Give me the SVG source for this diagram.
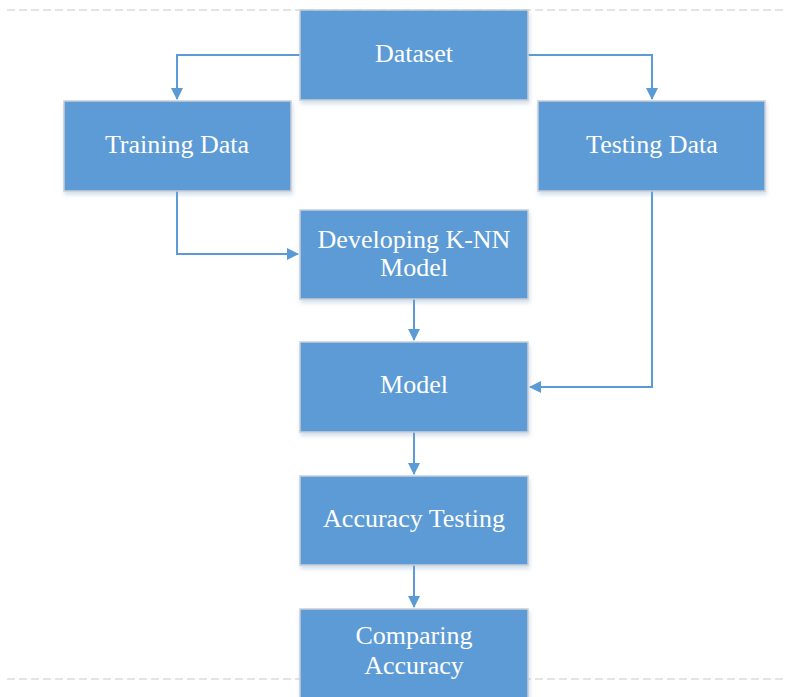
<svg xmlns="http://www.w3.org/2000/svg" width="787" height="697" viewBox="0 0 787 697">
<style>
.box{fill:#5B9BD5;stroke:#C9CED6;stroke-width:1.5}
.lbl{fill:#FFFFFF;font-family:"Liberation Serif","Times New Roman",serif;font-size:26px;text-anchor:middle}
.conn{fill:none;stroke:#5B9BD5;stroke-width:2}
.dash{stroke:#C8C8C8;stroke-width:1;stroke-dasharray:8,4}
</style>
<defs>
<filter id="sh" x="-10%" y="-10%" width="125%" height="130%">
<feDropShadow dx="1" dy="3" stdDeviation="2" flood-color="#7f9fc0" flood-opacity="0.35"/>
</filter>
<marker id="a" viewBox="0 0 12 12" refX="11" refY="6" markerWidth="12" markerHeight="12" orient="auto" markerUnits="userSpaceOnUse">
<path d="M0,0 L12,6 L0,12 z" fill="#5B9BD5"/>
</marker>
</defs>
<rect width="787" height="697" fill="#FFFFFF"/>
<line class="dash" x1="7" y1="10" x2="787" y2="10"/>
<line class="dash" x1="7" y1="679" x2="787" y2="679"/>
<g id="connectors">
<path class="conn" d="M300,55 H177 V99" marker-end="url(#a)"/>
<path class="conn" d="M528,55 H652 V99" marker-end="url(#a)"/>
<path class="conn" d="M177,191 V254 H298" marker-end="url(#a)"/>
<path class="conn" d="M652,191 V387 H530" marker-end="url(#a)"/>
<path class="conn" d="M414,299 V340" marker-end="url(#a)"/>
<path class="conn" d="M414,432 V474" marker-end="url(#a)"/>
<path class="conn" d="M414,565 V607" marker-end="url(#a)"/>
</g>
<g id="dataset">
<rect class="box" x="300" y="10" width="228" height="90" filter="url(#sh)"/>
<text class="lbl" x="414" y="62">Dataset</text>
</g>
<g id="training">
<rect class="box" x="64" y="101" width="227" height="90" filter="url(#sh)"/>
<text class="lbl" x="177" y="153">Training Data</text>
</g>
<g id="testing">
<rect class="box" x="538" y="101" width="227" height="90" filter="url(#sh)"/>
<text class="lbl" x="652" y="153">Testing Data</text>
</g>
<g id="developing">
<rect class="box" x="300" y="210" width="228" height="89" filter="url(#sh)"/>
<text class="lbl" x="414" y="248">Developing K-NN</text>
<text class="lbl" x="414" y="276">Model</text>
</g>
<g id="model">
<rect class="box" x="300" y="342" width="228" height="90" filter="url(#sh)"/>
<text class="lbl" x="414" y="393">Model</text>
</g>
<g id="accuracy-testing">
<rect class="box" x="300" y="476" width="228" height="89" filter="url(#sh)"/>
<text class="lbl" x="414" y="527">Accuracy Testing</text>
</g>
<g id="comparing">
<rect class="box" x="300" y="609" width="228" height="100" filter="url(#sh)"/>
<text class="lbl" x="414" y="644">Comparing</text>
<text class="lbl" x="414" y="674">Accuracy</text>
</g>
</svg>
